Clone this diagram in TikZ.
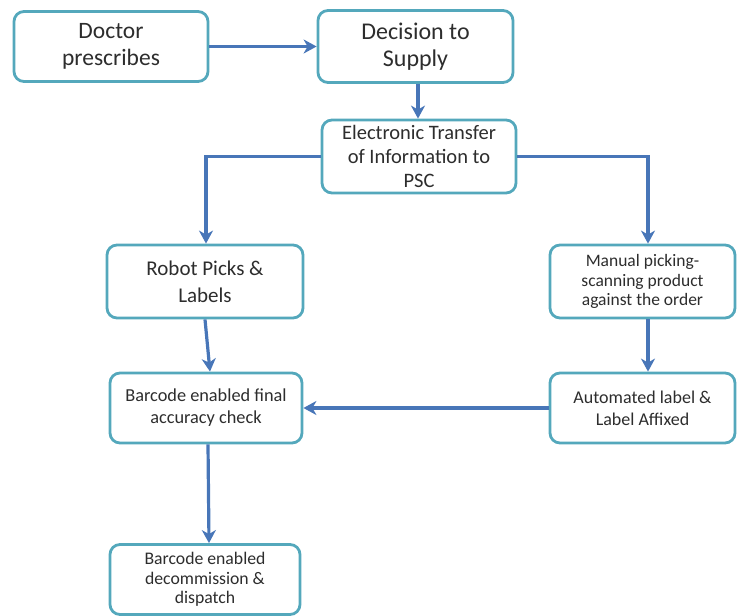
\documentclass[tikz,border=0pt]{standalone}
\usepackage{fontspec}
\setmainfont{Carlito}
\usetikzlibrary{arrows.meta}
\definecolor{boxline}{RGB}{84,168,188}
\definecolor{flow}{RGB}{72,118,184}
\definecolor{txt}{RGB}{45,45,45}
\begin{document}
\begin{tikzpicture}[x=1pt,y=-1pt,
  stepbox/.style={draw=boxline, line width=2.8pt, rounded corners=10pt, fill=white,
    align=center, text=txt, inner sep=0pt},
  fsize/.style 2 args={font=\fontsize{#1}{#2}\selectfont},
  flowarrow/.style={draw=flow, line width=3.2pt,
    -{Stealth[length=13pt,width=14pt,inset=4pt]}}]
\useasboundingbox (0,0) rectangle (737,616);

% process steps
\node[stepbox,fsize={23.5}{27},minimum width=194pt,minimum height=70pt] (doctor) at (111,46.5) {Doctor\\prescribes};
\node[stepbox,fsize={24}{27},minimum width=195pt,minimum height=72pt] (decision) at (415.5,46.5) {Decision to\\Supply};
\node[stepbox,fsize={20.5}{24},minimum width=194pt,minimum height=73pt] (transfer) at (419,156.5) {Electronic Transfer\\of Information to\\PSC};
\node[stepbox,fsize={21}{27},minimum width=196pt,minimum height=73pt] (robot) at (205,281.5) {Robot Picks \&\\Labels};
\node[stepbox,fsize={17.5}{19.5},minimum width=185pt,minimum height=73pt] (manual) at (642.5,281.5) {Manual picking-\\scanning product\\against the order};
\node[stepbox,fsize={18.3}{22},minimum width=192pt,minimum height=70pt] (check) at (206,408) {Barcode enabled final\\accuracy check};
\node[stepbox,fsize={18}{22},minimum width=185pt,minimum height=70pt] (label) at (642.5,408) {Automated label \&\\Label Affixed};
\node[stepbox,fsize={17.7}{19.5},minimum width=190pt,minimum height=70pt] (dispatch) at (205,579.5) {Barcode enabled\\decommission \&\\dispatch};

% connectors
\draw[flowarrow] (doctor.east) -- (decision.west);
\draw[flowarrow] ([xshift=2.5pt]decision.south) -- ([xshift=-1pt]transfer.north);
\coordinate (lturn) at (206,156.5);
\coordinate (rturn) at (648,156.5);
\draw[flowarrow] (transfer.west) -- (lturn) -- (robot.north -| lturn);
\draw[flowarrow] (transfer.east) -- (rturn) -- (manual.north -| rturn);
\draw[flowarrow] (robot.south) -- ([xshift=4pt]check.north);
\draw[flowarrow] ([xshift=5.5pt]manual.south) -- ([xshift=5.5pt]label.north);
\draw[flowarrow] (label.west) -- (check.east);
\draw[flowarrow] ([xshift=2pt]check.south) -- ([xshift=4pt]dispatch.north);
\end{tikzpicture}
\end{document}
